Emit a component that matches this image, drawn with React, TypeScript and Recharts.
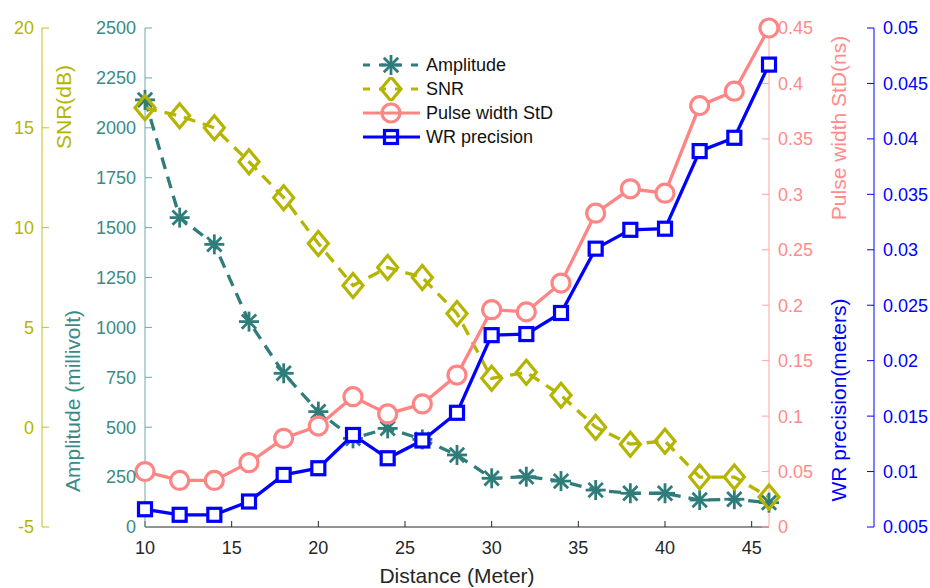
import React from "react";
import { LineChart, Line, XAxis, YAxis } from "recharts";

// values
const distance = [10, 12, 14, 16, 18, 20, 22, 24, 26, 28, 30, 32, 34, 36, 38, 40, 42, 44, 46];
const amplitude = [2140, 1550, 1416, 1029, 770, 578, 444, 494, 439, 361, 244, 252, 230, 185, 169, 169, 135, 139, 122];
const snr = [16.0, 15.6, 15.0, 13.3, 11.5, 9.2, 7.1, 8.0, 7.5, 5.7, 2.45, 2.75, 1.6, 0.0, -0.85, -0.7, -2.5, -2.5, -3.5];
const pulseStd = [0.05, 0.042, 0.042, 0.058, 0.08, 0.091, 0.1175, 0.102, 0.111, 0.137, 0.196, 0.194, 0.22, 0.283, 0.305, 0.301, 0.38, 0.393, 0.45];
const wrPrecision = [0.0066, 0.0061, 0.0061, 0.0073, 0.0097, 0.0103, 0.0133, 0.0112, 0.0128, 0.0153, 0.0223, 0.0224, 0.0243, 0.0301, 0.0318, 0.0319, 0.0389, 0.0401, 0.0467];

const xTicks = [10, 15, 20, 25, 30, 35, 40, 45];
const ampTicks = [0, 250, 500, 750, 1000, 1250, 1500, 1750, 2000, 2250, 2500];
const snrTicks = [-5, 0, 5, 10, 15, 20];
const pulseTicks = [0, 0.05, 0.1, 0.15, 0.2, 0.25, 0.3, 0.35, 0.4, 0.45];
const wrTicks = [0.005, 0.01, 0.015, 0.02, 0.025, 0.03, 0.035, 0.04, 0.045, 0.05];

const data = distance.map((d, i) => ({
  d,
  amp: amplitude[i],
  snr: snr[i],
  pulse: pulseStd[i],
  wr: wrPrecision[i],
}));

const FONT = "'Liberation Sans', Arial, Helvetica, sans-serif";
const TEAL = "#2f7d7a";
const TEAL_TXT = "#3b8a87";
const TEAL_AXIS = "#6aa9a8";
const OLIVE = "#b5b500";
const OLIVE_AXIS = "#c2c21a";
const PINK = "#ff8585";
const PINK_TXT = "#ff8b8b";
const PINK_AXIS = "#ffa3a3";
const BLUE = "#0000ff";

const Star = ({ cx, cy, color, r = 10 }: any) => {
  const k = r * 0.72;
  return (
    <g stroke={color} strokeWidth={2.8} fill="none">
      <line x1={cx - r} y1={cy} x2={cx + r} y2={cy} />
      <line x1={cx} y1={cy - r} x2={cx} y2={cy + r} />
      <line x1={cx - k} y1={cy - k} x2={cx + k} y2={cy + k} />
      <line x1={cx - k} y1={cy + k} x2={cx + k} y2={cy - k} />
    </g>
  );
};

const Diamond = ({ cx, cy, color }: any) => (
  <path
    d={`M${cx},${cy - 12} L${cx + 10},${cy} L${cx},${cy + 12} L${cx - 10},${cy} Z`}
    stroke={color}
    strokeWidth={3.2}
    fill="none"
  />
);

const Ring = ({ cx, cy, color, fill = "#fff" }: any) => (
  <circle cx={cx} cy={cy} r={9} stroke={color} strokeWidth={3.2} fill={fill} />
);

const Box = ({ cx, cy, color, fill = "#fff" }: any) => (
  <rect x={cx - 6.5} y={cy - 6.5} width={13} height={13} stroke={color} strokeWidth={3.2} fill={fill} />
);

const title = (text: string, x: number, y: number, color: string) => () => (
  <text
    x={x}
    y={y}
    transform={`rotate(-90 ${x} ${y})`}
    textAnchor="middle"
    dominantBaseline="central"
    fill={color}
    fontSize={21}
    fontFamily={FONT}
  >
    {text}
  </text>
);

const legendItems = [
  { name: "Amplitude", color: TEAL, dash: "7 9", mark: "star" },
  { name: "SNR", color: OLIVE, dash: "7 9", mark: "diamond" },
  { name: "Pulse width StD", color: PINK, dash: undefined, mark: "circle" },
  { name: "WR precision", color: BLUE, dash: undefined, mark: "square" },
];

const LegendBox = () => (
  <div style={{ position: "absolute", left: 360, top: 53, fontFamily: FONT }}>
    {legendItems.map((it) => (
      <div key={it.name} style={{ display: "flex", alignItems: "center", height: 24 }}>
        <svg width={64} height={24}>
          <line x1={3} y1={12} x2={60} y2={12} stroke={it.color} strokeWidth={3.2} strokeDasharray={it.dash} />
          {it.mark === "star" && <Star cx={31} cy={12} color={it.color} />}
          {it.mark === "diamond" && <Diamond cx={31} cy={12} color={it.color} />}
          {it.mark === "circle" && <Ring cx={31} cy={12} color={it.color} fill="none" />}
          {it.mark === "square" && <Box cx={31} cy={12} color={it.color} fill="none" />}
        </svg>
        <span style={{ fontSize: 18, color: "#111", marginLeft: 2, lineHeight: "24px" }}>{it.name}</span>
      </div>
    ))}
  </div>
);

export default function App() {
  const tickFont = { fontSize: 18, fontFamily: FONT };
  return (
    <div style={{ position: "absolute", left: 0, top: 0, width: 930, height: 588, background: "#fff" }}>
      <LineChart width={930} height={588} data={data} margin={{ top: 28, right: 0, bottom: 0, left: 0 }}>
        <XAxis
          dataKey="d"
          type="number"
          domain={[10, 46]}
          ticks={xTicks}
          height={61}
          stroke="#262626"
          tickSize={-6}
          tickMargin={20}
          tick={{ ...tickFont, fill: "#262626" }}
          label={{ value: "Distance (Meter)", position: "insideBottom", offset: 5, fill: "#262626", fontSize: 21, fontFamily: FONT }}
        />
        <YAxis
          yAxisId="a_amp"
          orientation="left"
          width={103}
          domain={[0, 2500]}
          ticks={ampTicks}
          stroke={TEAL_AXIS}
          tickSize={-7}
          tickMargin={16}
          tick={{ ...tickFont, fill: TEAL_TXT }}
          label={title("Amplitude (millivolt)", 72, 401, TEAL_TXT)}
        />
        <YAxis
          yAxisId="b_snr"
          orientation="left"
          width={42}
          domain={[-5, 20]}
          ticks={snrTicks}
          stroke={OLIVE_AXIS}
          tickSize={-7}
          tickMargin={15}
          tick={{ ...tickFont, fill: OLIVE }}
          label={title("SNR(dB)", 63, 107, OLIVE)}
        />
        <YAxis
          yAxisId="c_pulse"
          orientation="right"
          width={105}
          domain={[0, 0.45]}
          ticks={pulseTicks}
          stroke={PINK_AXIS}
          tickSize={-7}
          tickMargin={16}
          tick={{ ...tickFont, fill: PINK_TXT }}
          label={title("Pulse width StD(ns)", 838, 128, PINK_TXT)}
        />
        <YAxis
          yAxisId="d_wr"
          orientation="right"
          width={56}
          domain={[0.005, 0.05]}
          ticks={wrTicks}
          stroke={BLUE}
          tickSize={-7}
          tickMargin={16}
          tick={{ ...tickFont, fill: BLUE }}
          label={title("WR precision(meters)", 838, 400, BLUE)}
        />
        <Line
          yAxisId="a_amp"
          dataKey="amp"
          stroke={TEAL}
          strokeWidth={3.3}
          strokeDasharray="12 8"
          isAnimationActive={false}
          dot={(p: any) => <Star key={`a${p.index}`} cx={p.cx} cy={p.cy} color={TEAL} />}
          activeDot={false}
        />
        <Line
          yAxisId="b_snr"
          dataKey="snr"
          stroke={OLIVE}
          strokeWidth={3.3}
          strokeDasharray="12 8"
          isAnimationActive={false}
          dot={(p: any) => <Diamond key={`s${p.index}`} cx={p.cx} cy={p.cy} color={OLIVE} />}
          activeDot={false}
        />
        <Line
          yAxisId="c_pulse"
          dataKey="pulse"
          stroke={PINK}
          strokeWidth={3.3}
          isAnimationActive={false}
          dot={(p: any) => <Ring key={`p${p.index}`} cx={p.cx} cy={p.cy} color={PINK} />}
          activeDot={false}
        />
        <Line
          yAxisId="d_wr"
          dataKey="wr"
          stroke={BLUE}
          strokeWidth={3.3}
          isAnimationActive={false}
          dot={(p: any) => <Box key={`w${p.index}`} cx={p.cx} cy={p.cy} color={BLUE} />}
          activeDot={false}
        />
      </LineChart>
      <LegendBox />
    </div>
  );
}
